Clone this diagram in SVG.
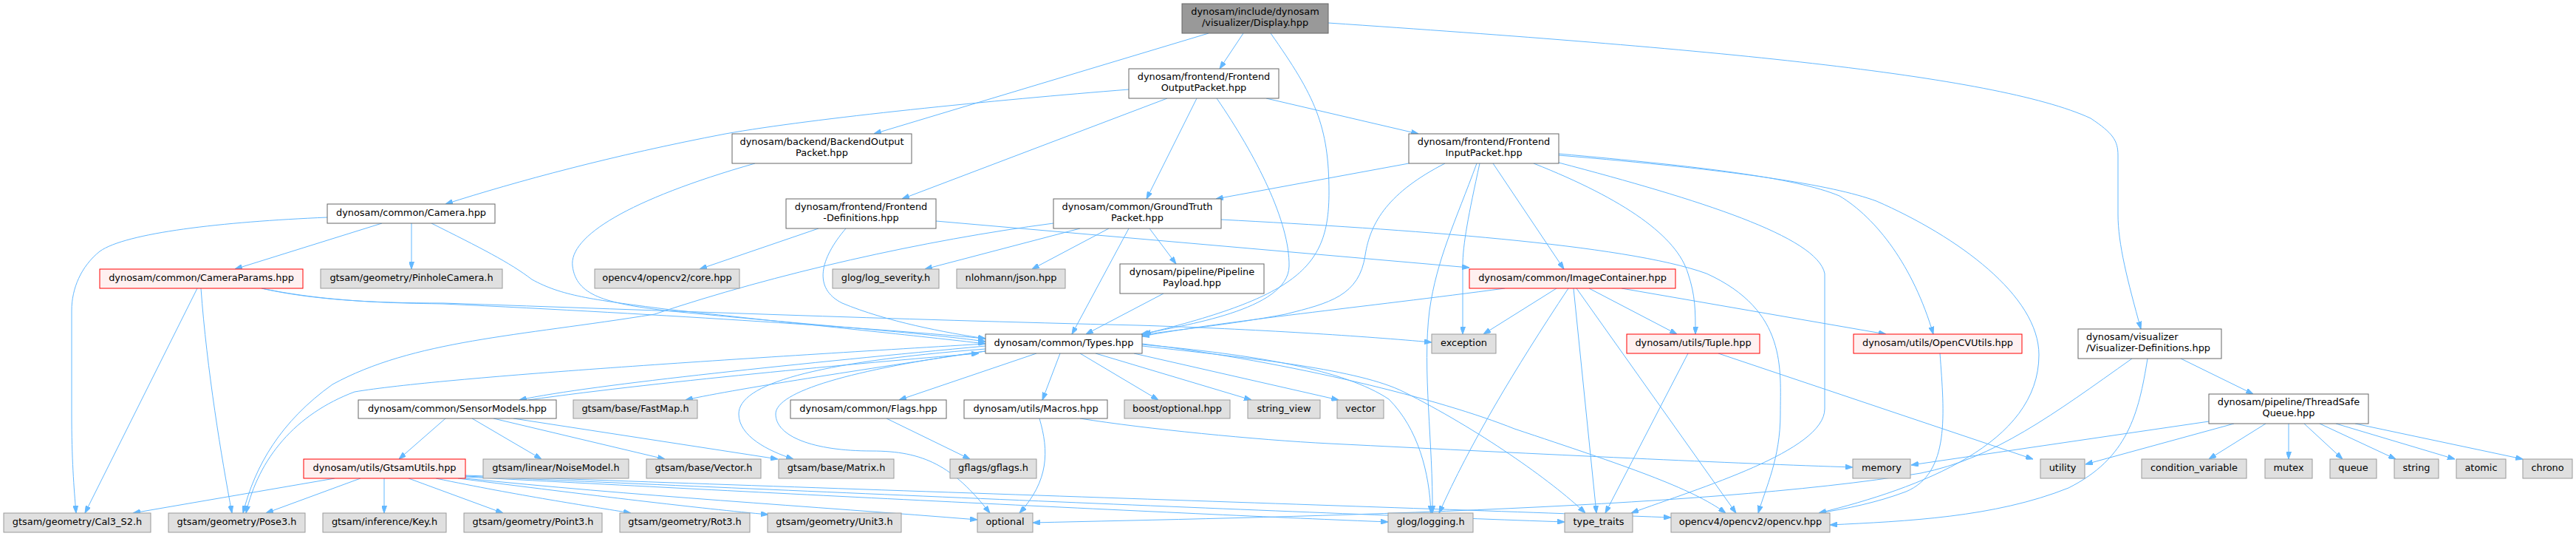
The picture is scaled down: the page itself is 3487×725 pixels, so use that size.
<svg xmlns="http://www.w3.org/2000/svg" width="3487" height="725" viewBox="0 0 3487 725">
<style>
.n rect{stroke-width:1}
.g rect{fill:#e0e0e0;stroke:#999999}
.w rect{fill:#ffffff;stroke:#666666}
.r rect{fill:#fff0f0;stroke:#ff0000}
.k rect{fill:#999999;stroke:#666666}
text{font-family:"DejaVu Sans","Liberation Sans",sans-serif;font-size:12.9px;fill:#000;text-anchor:middle}
text.l{text-anchor:start}
#edges path{fill:none;stroke:#63b8ff;stroke-width:1;marker-end:url(#a)}
</style>
<defs>
<marker id="a" markerWidth="10" markerHeight="7" refX="10" refY="3.5" orient="auto" markerUnits="userSpaceOnUse"><path d="M0,0 L10,3.5 L0,7 z" fill="#63b8ff" stroke="#63b8ff" stroke-width="1"/></marker>
</defs>
<rect width="3487" height="725" fill="#ffffff"/>
<g id="edges">
<path d="M1636,45 L1183,181"/>
<path d="M1683,45 L1651,93"/>
<path d="M1720,45 C1780,130 1799,170 1799,260 C1799,360 1760,400 1548,452"/>
<path d="M1798,31 C2300,65 2700,100 2830,160 C2860,180 2867,190 2867,210 L2867,290 C2867,330 2880,380 2898,445"/>
<path d="M1528,121 C1350,135 1100,160 982,181 C830,210 700,245 603,276"/>
<path d="M1580,133 L1221,269"/>
<path d="M1620,133 L1552,269"/>
<path d="M1647,133 C1700,210 1746,300 1745,360 C1744,420 1600,440 1545,452"/>
<path d="M1714,133 L1920,181"/>
<path d="M1022,221 C850,270 770,320 775,360 C780,400 820,410 900,420 C1100,440 1250,450 1334,462"/>
<path d="M1907,221 L1646,269"/>
<path d="M1956,221 C1880,260 1855,300 1848,345 C1840,400 1800,410 1740,425 C1660,440 1600,445 1546,453"/>
<path d="M2003,221 C1988,290 1980,330 1980,360 L1980,452"/>
<path d="M1999,221 C1970,300 1945,350 1935,420 C1925,500 1940,600 1939,694"/>
<path d="M2021,221 L2117,364"/>
<path d="M2076,221 C2200,270 2270,320 2285,370 C2295,400 2295,420 2295,452"/>
<path d="M2110,208 C2300,225 2430,240 2490,265 C2540,295 2590,360 2617,452"/>
<path d="M2110,210 C2350,230 2480,250 2540,272 C2650,320 2760,400 2760,480 C2760,600 2600,660 2462,694"/>
<path d="M2110,220 C2300,270 2460,320 2470,370 L2470,553 C2470,610 2300,660 2208,694"/>
<path d="M1426,302 C1250,325 1050,370 886,425 C700,455 560,460 450,520 C380,570 345,630 329,694"/>
<path d="M1462,309 L1252,364"/>
<path d="M1501,309 L1397,364"/>
<path d="M1528,309 L1451,452"/>
<path d="M1556,309 L1592,357"/>
<path d="M1653,297 C1900,310 2200,330 2310,370 C2420,420 2410,500 2410,560 C2410,620 2390,660 2380,694"/>
<path d="M1575,397 L1470,452"/>
<path d="M517,302 L318,364"/>
<path d="M557,302 L557,364"/>
<path d="M443,294 C300,300 170,315 135,340 C110,360 97,390 97,420 L97,560 C97,620 100,660 103,694"/>
<path d="M584,302 C650,335 690,355 720,378 C760,400 800,405 900,418 C1100,440 1250,455 1334,465"/>
<path d="M267,390 L115,694"/>
<path d="M272,390 C280,500 300,620 314,694"/>
<path d="M354,390 C450,410 550,410 600,411 C900,425 1200,445 1334,458"/>
<path d="M354,390 C420,405 500,410 600,410 C900,420 1200,432 1540,440 C1700,445 1850,455 1938,463"/>
<path d="M1108,309 L947,364"/>
<path d="M1145,309 C1110,350 1100,390 1140,410 C1200,435 1280,450 1334,458"/>
<path d="M1267,299 L1989,362"/>
<path d="M2037,390 C1850,415 1650,435 1546,455"/>
<path d="M2107,390 L2008,452"/>
<path d="M2123,390 C2050,500 1990,600 1948,694"/>
<path d="M2130,390 L2161,694"/>
<path d="M2134,390 L2350,694"/>
<path d="M2151,390 L2270,452"/>
<path d="M2195,390 L2553,452"/>
<path d="M2285,478 L2173,694"/>
<path d="M2326,478 L2752,621"/>
<path d="M2626,478 C2632,560 2640,640 2580,665 C2540,680 2500,688 2462,694"/>
<path d="M2952,485 L3050,533"/>
<path d="M2907,485 C2895,560 2880,620 2800,660 C2700,700 2580,705 2477,710"/>
<path d="M2886,485 C2780,560 2700,620 2600,640 C2300,690 1700,700 1398,707"/>
<path d="M2990,570 L2587,629"/>
<path d="M3024,573 L2823,628"/>
<path d="M3067,573 L2990,621"/>
<path d="M3098,573 L3098,621"/>
<path d="M3119,573 L3171,621"/>
<path d="M3140,573 L3243,621"/>
<path d="M3162,573 L3323,621"/>
<path d="M3188,573 L3415,621"/>
<path d="M1334,468 C1100,490 800,520 703,541"/>
<path d="M715,541 C900,515 1200,488 1325,478"/>
<path d="M1334,475 C1200,495 1000,525 928,541"/>
<path d="M1403,478 L1217,541"/>
<path d="M1435,478 L1411,541"/>
<path d="M1462,478 L1568,541"/>
<path d="M1483,478 L1694,541"/>
<path d="M1535,478 L1812,541"/>
<path d="M1334,472 C1100,490 1000,520 1000,560 C1000,590 1040,610 1074,621"/>
<path d="M1334,475 C1150,500 1050,530 1050,560 C1050,590 1100,610 1180,610 C1250,610 1290,630 1340,694"/>
<path d="M1334,465 C1000,485 600,510 480,530 C400,560 350,620 333,694"/>
<path d="M1546,466 C1700,480 1820,500 1880,540 C1920,580 1935,640 1937,694"/>
<path d="M1546,468 C1700,485 1840,500 1900,530 C2000,580 2100,650 2146,694"/>
<path d="M1546,465 C1750,490 1950,540 2050,580 C2200,630 2290,660 2336,694"/>
<path d="M603,566 L540,621"/>
<path d="M639,566 L733,621"/>
<path d="M668,566 L900,621"/>
<path d="M695,566 L1053,621"/>
<path d="M453,647 L180,694"/>
<path d="M488,647 L360,694"/>
<path d="M520,647 L520,694"/>
<path d="M553,647 L681,694"/>
<path d="M590,647 C700,670 800,685 854,694"/>
<path d="M620,647 C800,670 950,688 1040,696"/>
<path d="M630,647 C850,670 1100,685 1323,703"/>
<path d="M630,645 C1000,665 1600,695 1879,706"/>
<path d="M630,644 C1100,665 1800,695 2118,706"/>
<path d="M630,643 C1100,660 2000,690 2262,700"/>
<path d="M1407,566 C1420,610 1420,650 1380,694"/>
<path d="M1462,566 C1550,580 1700,595 1800,600 C2100,615 2350,627 2508,632"/>
<path d="M1200,566 L1313,621"/>
</g>
<g id="n_display" class="n k"><rect x="1600" y="5" width="198" height="40"/><text x="1699" y="20">dynosam/include/dynosam</text><text x="1699" y="34.7">/visualizer/Display.hpp</text></g>
<g id="n_fop" class="n w"><rect x="1528" y="93" width="203" height="40"/><text x="1629.5" y="108">dynosam/frontend/Frontend</text><text x="1629.5" y="122.7">OutputPacket.hpp</text></g>
<g id="n_bop" class="n w"><rect x="991" y="181" width="243" height="40"/><text x="1112.5" y="196">dynosam/backend/BackendOutput</text><text x="1112.5" y="210.7">Packet.hpp</text></g>
<g id="n_fip" class="n w"><rect x="1907" y="181" width="203" height="40"/><text x="2008.5" y="196">dynosam/frontend/Frontend</text><text x="2008.5" y="210.7">InputPacket.hpp</text></g>
<g id="n_camera" class="n w"><rect x="443" y="276" width="227" height="26"/><text x="556.5" y="292.3">dynosam/common/Camera.hpp</text></g>
<g id="n_fdef" class="n w"><rect x="1064" y="269" width="203" height="40"/><text x="1165.5" y="284">dynosam/frontend/Frontend</text><text x="1165.5" y="298.7">-Definitions.hpp</text></g>
<g id="n_gt" class="n w"><rect x="1426" y="269" width="227" height="40"/><text x="1539.5" y="284">dynosam/common/GroundTruth</text><text x="1539.5" y="298.7">Packet.hpp</text></g>
<g id="n_camparams" class="n r"><rect x="135" y="364" width="275" height="26"/><text x="272.5" y="380.3">dynosam/common/CameraParams.hpp</text></g>
<g id="n_pinhole" class="n g"><rect x="434" y="364" width="246" height="26"/><text x="557" y="380.3">gtsam/geometry/PinholeCamera.h</text></g>
<g id="n_core" class="n g"><rect x="805" y="364" width="196" height="26"/><text x="903" y="380.3">opencv4/opencv2/core.hpp</text></g>
<g id="n_logsev" class="n g"><rect x="1127" y="364" width="144" height="26"/><text x="1199" y="380.3">glog/log_severity.h</text></g>
<g id="n_json" class="n g"><rect x="1295" y="364" width="147" height="26"/><text x="1368.5" y="380.3">nlohmann/json.hpp</text></g>
<g id="n_payload" class="n w"><rect x="1516" y="357" width="195" height="40"/><text x="1613.5" y="372">dynosam/pipeline/Pipeline</text><text x="1613.5" y="386.7">Payload.hpp</text></g>
<g id="n_imgc" class="n r"><rect x="1989" y="364" width="279" height="26"/><text x="2128.5" y="380.3">dynosam/common/ImageContainer.hpp</text></g>
<g id="n_types" class="n w"><rect x="1334" y="452" width="212" height="26"/><text x="1440" y="468.3">dynosam/common/Types.hpp</text></g>
<g id="n_exception" class="n g"><rect x="1938" y="452" width="87" height="26"/><text x="1981.5" y="468.3">exception</text></g>
<g id="n_tuple" class="n r"><rect x="2202" y="452" width="180" height="26"/><text x="2292" y="468.3">dynosam/utils/Tuple.hpp</text></g>
<g id="n_cvutils" class="n r"><rect x="2509" y="452" width="228" height="26"/><text x="2623" y="468.3">dynosam/utils/OpenCVUtils.hpp</text></g>
<g id="n_visdef" class="n w"><rect x="2813" y="445" width="194" height="40"/><text class="l" x="2824" y="460">dynosam/visualizer</text><text class="l" x="2824" y="474.7">/Visualizer-Definitions.hpp</text></g>
<g id="n_sensor" class="n w"><rect x="485" y="541" width="268" height="25"/><text x="619" y="557">dynosam/common/SensorModels.hpp</text></g>
<g id="n_fastmap" class="n g"><rect x="776" y="541" width="168" height="25"/><text x="860" y="557">gtsam/base/FastMap.h</text></g>
<g id="n_flags" class="n w"><rect x="1070" y="541" width="211" height="25"/><text x="1175.5" y="557">dynosam/common/Flags.hpp</text></g>
<g id="n_macros" class="n w"><rect x="1305" y="541" width="194" height="25"/><text x="1402" y="557">dynosam/utils/Macros.hpp</text></g>
<g id="n_boostopt" class="n g"><rect x="1522" y="541" width="143" height="25"/><text x="1593.5" y="557">boost/optional.hpp</text></g>
<g id="n_strview" class="n g"><rect x="1689" y="541" width="98" height="25"/><text x="1738" y="557">string_view</text></g>
<g id="n_vector" class="n g"><rect x="1810" y="541" width="63" height="25"/><text x="1841.5" y="557">vector</text></g>
<g id="n_tsq" class="n w"><rect x="2990" y="533" width="216" height="40"/><text x="3098" y="548">dynosam/pipeline/ThreadSafe</text><text x="3098" y="562.7">Queue.hpp</text></g>
<g id="n_gtsamutils" class="n r"><rect x="411" y="621" width="219" height="26"/><text x="520.5" y="637.3">dynosam/utils/GtsamUtils.hpp</text></g>
<g id="n_noise" class="n g"><rect x="654" y="621" width="197" height="26"/><text x="752.5" y="637.3">gtsam/linear/NoiseModel.h</text></g>
<g id="n_gvector" class="n g"><rect x="875" y="621" width="155" height="26"/><text x="952.5" y="637.3">gtsam/base/Vector.h</text></g>
<g id="n_matrix" class="n g"><rect x="1054" y="621" width="156" height="26"/><text x="1132" y="637.3">gtsam/base/Matrix.h</text></g>
<g id="n_gflags" class="n g"><rect x="1286" y="621" width="117" height="26"/><text x="1344.5" y="637.3">gflags/gflags.h</text></g>
<g id="n_memory" class="n g"><rect x="2508" y="621" width="78" height="26"/><text x="2547" y="637.3">memory</text></g>
<g id="n_utility" class="n g"><rect x="2762" y="621" width="60" height="26"/><text x="2792" y="637.3">utility</text></g>
<g id="n_condvar" class="n g"><rect x="2899" y="621" width="142" height="26"/><text x="2970" y="637.3">condition_variable</text></g>
<g id="n_mutex" class="n g"><rect x="3066" y="621" width="64" height="26"/><text x="3098" y="637.3">mutex</text></g>
<g id="n_queue" class="n g"><rect x="3154" y="621" width="63" height="26"/><text x="3185.5" y="637.3">queue</text></g>
<g id="n_string" class="n g"><rect x="3241" y="621" width="60" height="26"/><text x="3271" y="637.3">string</text></g>
<g id="n_atomic" class="n g"><rect x="3325" y="621" width="67" height="26"/><text x="3358.5" y="637.3">atomic</text></g>
<g id="n_chrono" class="n g"><rect x="3415" y="621" width="67" height="26"/><text x="3448.5" y="637.3">chrono</text></g>
<g id="n_cal3" class="n g"><rect x="5" y="694" width="199" height="26"/><text x="104.5" y="710.3">gtsam/geometry/Cal3_S2.h</text></g>
<g id="n_pose3" class="n g"><rect x="228" y="694" width="185" height="26"/><text x="320.5" y="710.3">gtsam/geometry/Pose3.h</text></g>
<g id="n_key" class="n g"><rect x="437" y="694" width="167" height="26"/><text x="520.5" y="710.3">gtsam/inference/Key.h</text></g>
<g id="n_point3" class="n g"><rect x="628" y="694" width="187" height="26"/><text x="721.5" y="710.3">gtsam/geometry/Point3.h</text></g>
<g id="n_rot3" class="n g"><rect x="839" y="694" width="176" height="26"/><text x="927" y="710.3">gtsam/geometry/Rot3.h</text></g>
<g id="n_unit3" class="n g"><rect x="1039" y="694" width="181" height="26"/><text x="1129.5" y="710.3">gtsam/geometry/Unit3.h</text></g>
<g id="n_optional" class="n g"><rect x="1323" y="694" width="75" height="26"/><text x="1360.5" y="710.3">optional</text></g>
<g id="n_logging" class="n g"><rect x="1879" y="694" width="115" height="26"/><text x="1936.5" y="710.3">glog/logging.h</text></g>
<g id="n_typetraits" class="n g"><rect x="2118" y="694" width="92" height="26"/><text x="2164" y="710.3">type_traits</text></g>
<g id="n_opencv" class="n g"><rect x="2262" y="694" width="215" height="26"/><text x="2369.5" y="710.3">opencv4/opencv2/opencv.hpp</text></g>
</svg>
